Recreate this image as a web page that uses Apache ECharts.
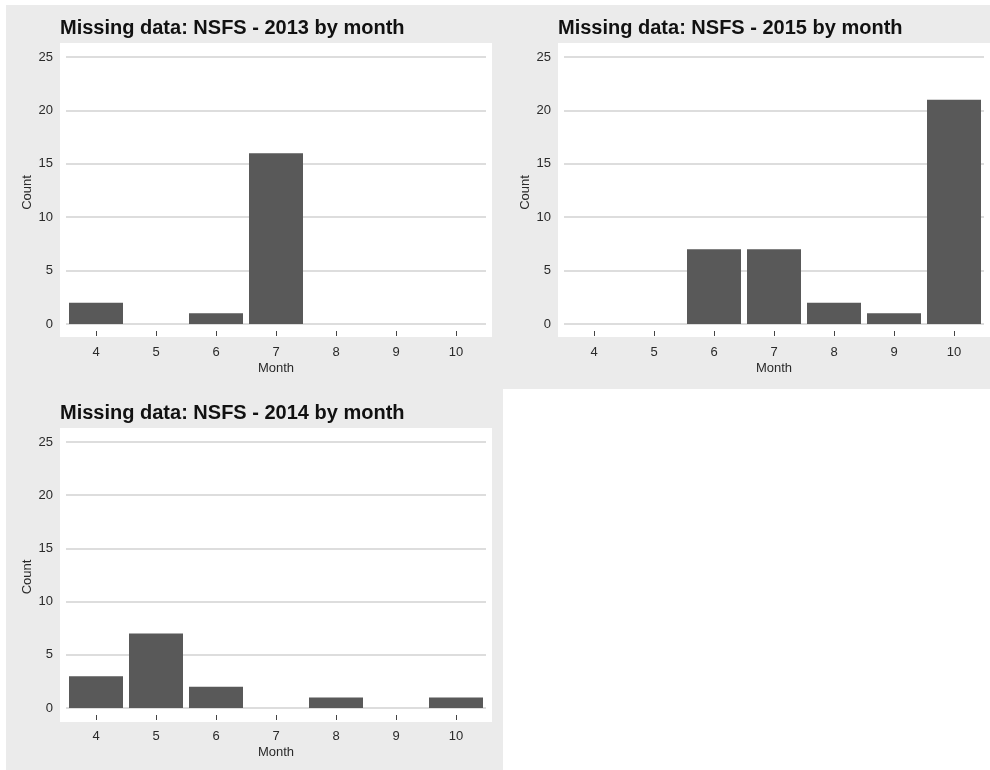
<!DOCTYPE html>
<html>
<head>
<meta charset="utf-8">
<script src="https://cdn.jsdelivr.net/npm/echarts@6/dist/echarts.min.js"></script>
<style>
    html, body { margin: 0; padding: 0; background: #ffffff; }
    #chart { width: 990px; height: 770px; }
</style>
</head>
<body>
<div id="chart"></div>
<script>
    // months on the x axis
    const months = ['4', '5', '6', '7', '8', '9', '10'];
    // missing counts per month
    const counts2013 = [2, 0, 1, 16, 0, 0, 0];
    const counts2015 = [0, 0, 7, 7, 2, 1, 21];
    const counts2014 = [3, 7, 2, 0, 1, 0, 1];
    const titles = [
        'Missing data: NSFS - 2013 by month',
        'Missing data: NSFS - 2015 by month',
        'Missing data: NSFS - 2014 by month'
    ];

    const panelGray = '#ebebeb';
    const barColor = '#595959';
    const textColor = '#2a2a2a';
    const font = 'Liberation Sans, Arial, sans-serif';

    // grid positions of the three panels (bottom edge = where the month ticks end)
    const grids = [
        { left: 66, top: 57, width: 420, height: 279 },
        { left: 564, top: 57, width: 420, height: 279 },
        { left: 66, top: 442, width: 420, height: 278 }
    ];

    const chart = echarts.init(document.getElementById('chart'));

    function xAxisFor(i) {
        return {
            type: 'category',
            gridIndex: i,
            data: months,
            axisLine: { show: false, onZero: false },
            axisTick: { show: true, inside: true, alignWithLabel: true, length: 5, lineStyle: { color: '#444', width: 1 } },
            axisLabel: { color: textColor, fontSize: 13, fontFamily: font, margin: 10 },
            name: 'Month',
            nameLocation: 'middle',
            nameGap: 26,
            nameTextStyle: { color: textColor, fontSize: 13, fontFamily: font }
        };
    }

    function yAxisFor(i) {
        return {
            type: 'value',
            gridIndex: i,
            // a little room below zero, like the plot area of the original
            min: -1.12,
            max: 25,
            splitNumber: 5,
            axisLine: { show: false },
            axisTick: { show: false },
            axisLabel: { color: textColor, fontSize: 13, fontFamily: font, margin: 13, showMinLabel: false },
            splitLine: { show: true, showMinLine: false, lineStyle: { color: '#d2d2d2', width: 1.5 } },
            name: 'Count',
            nameLocation: 'middle',
            nameGap: 32,
            nameTextStyle: { color: textColor, fontSize: 13, fontFamily: font, padding: [0, 0, 0, 8] }
        };
    }

    function seriesFor(i, values) {
        return {
            type: 'bar',
            xAxisIndex: i,
            yAxisIndex: i,
            data: values,
            barCategoryGap: '10%',
            itemStyle: { color: barColor },
            z: 3
        };
    }

    chart.setOption({
        backgroundColor: '#ffffff',
        animation: false,
        graphic: [
            // gray panel backgrounds
            { type: 'rect', shape: { x: 6, y: 5, width: 497, height: 765 }, style: { fill: panelGray }, z: -10 },
            { type: 'rect', shape: { x: 503, y: 5, width: 487, height: 384 }, style: { fill: panelGray }, z: -10 },
            // white plot areas
            { type: 'rect', shape: { x: 60, y: 43, width: 432, height: 294 }, style: { fill: '#ffffff' }, z: -9 },
            { type: 'rect', shape: { x: 558, y: 43, width: 432, height: 294 }, style: { fill: '#ffffff' }, z: -9 },
            { type: 'rect', shape: { x: 60, y: 428, width: 432, height: 294 }, style: { fill: '#ffffff' }, z: -9 }
        ],
        title: [
            { text: titles[0], left: 60, top: 18 },
            { text: titles[1], left: 558, top: 18 },
            { text: titles[2], left: 60, top: 403 }
        ].map(t => Object.assign(t, {
            padding: 0,
            textStyle: { fontSize: 20, fontWeight: 'bold', color: '#111', fontFamily: font }
        })),
        grid: grids,
        xAxis: [xAxisFor(0), xAxisFor(1), xAxisFor(2)],
        yAxis: [yAxisFor(0), yAxisFor(1), yAxisFor(2)],
        series: [
            seriesFor(0, counts2013),
            seriesFor(1, counts2015),
            seriesFor(2, counts2014)
        ]
    });
</script>
</body>
</html>
